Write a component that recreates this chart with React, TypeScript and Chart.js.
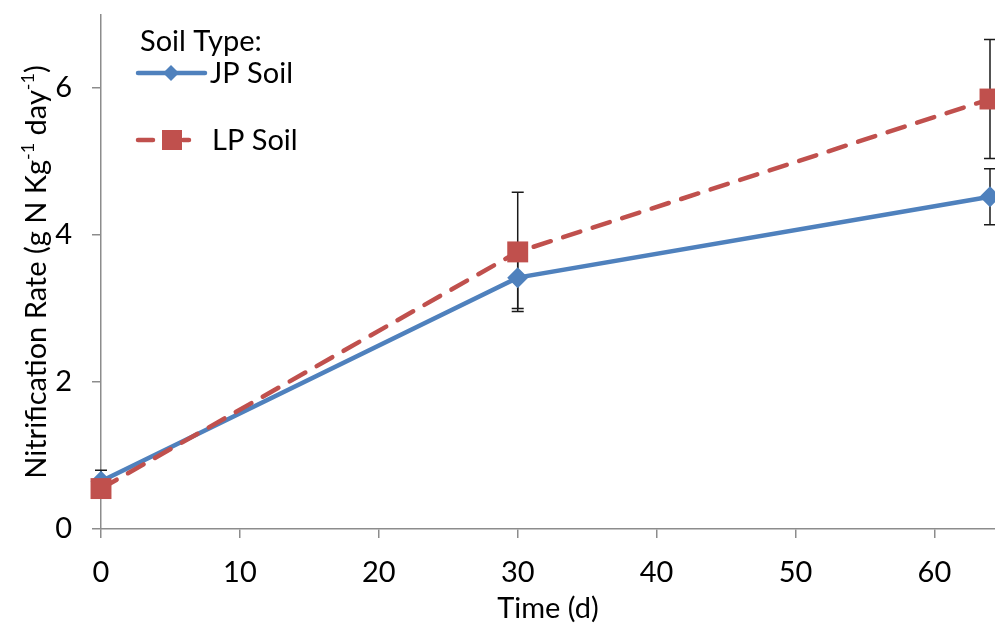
import React, { useEffect, useRef } from 'react';
import { Chart, registerables } from 'chart.js';

Chart.register(...registerables);

// ---- data ----
const times = [0, 30, 64];
const jpValues = [0.65, 3.42, 4.52];
const jpErrors = [0.15, 0.42, 0.38];
const lpValues = [0.55, 3.77, 5.85];
const lpErrors = [0.13, 0.81, 0.81];
const xTickValues = [0, 10, 20, 30, 40, 50, 60];
const yTickValues = [0, 2, 4, 6];
const seriesNames = ['JP Soil', 'LP Soil'];
const legendTitle = 'Soil Type:';
const xTitle = 'Time (d)';
const yTitleParts = [
  { t: 'Nitrification Rate (g N Kg', sup: false },
  { t: '-1', sup: true },
  { t: ' day', sup: false },
  { t: '-1', sup: true },
  { t: ')', sup: false },
];

const BLUE = '#4F81BD';
const RED = '#C0504D';
const FONT = 'Lato';
const AXIS_COLOR = '#8C8C8C';
const FS = 29;

const errorBarPlugin = {
  id: 'errorBars',
  beforeDatasetsDraw(chart: any) {
    const { ctx } = chart;
    const yS = chart.scales.y;
    chart.data.datasets.forEach((ds: any, i: number) => {
      const meta = chart.getDatasetMeta(i);
      const errs: number[] = ds.errors || [];
      meta.data.forEach((pt: any, j: number) => {
        const v = ds.data[j].y;
        const e = errs[j];
        if (e == null) return;
        const x = pt.x;
        const yTop = yS.getPixelForValue(v + e);
        const yBot = yS.getPixelForValue(v - e);
        ctx.save();
        ctx.strokeStyle = '#1a1a1a';
        ctx.lineWidth = 1.5;
        ctx.beginPath();
        ctx.moveTo(x, yTop);
        ctx.lineTo(x, yBot);
        ctx.moveTo(x - 6, yTop);
        ctx.lineTo(x + 6, yTop);
        ctx.moveTo(x - 6, yBot);
        ctx.lineTo(x + 6, yBot);
        ctx.stroke();
        ctx.restore();
      });
    });
  },
};

const decorPlugin = {
  id: 'decor',
  afterDraw(chart: any) {
    const { ctx } = chart;
    ctx.save();
    // y-axis title with superscripts
    const size = FS;
    const supSize = 18;
    const parts = yTitleParts.map((p) => {
      ctx.font = `${p.sup ? supSize : size}px ${FONT}`;
      return { ...p, w: ctx.measureText(p.t).width };
    });
    const total = parts.reduce((a, p) => a + p.w, 0);
    ctx.translate(36, 272);
    ctx.rotate(-Math.PI / 2);
    ctx.fillStyle = '#000';
    ctx.textBaseline = 'alphabetic';
    ctx.textAlign = 'left';
    let x = -total / 2;
    parts.forEach((p) => {
      ctx.font = `${p.sup ? supSize : size}px ${FONT}`;
      ctx.fillText(p.t, x, p.sup ? -2 : 10);
      x += p.w;
    });
    ctx.restore();

    // legend
    ctx.save();
    ctx.fillStyle = '#000';
    ctx.textBaseline = 'middle';
    ctx.textAlign = 'left';
    ctx.font = `${FS}px ${FONT}`;
    ctx.fillText(legendTitle, 140, 42);
    // JP
    ctx.strokeStyle = BLUE;
    ctx.lineWidth = 4.5;
    ctx.lineCap = 'round';
    ctx.beginPath();
    ctx.moveTo(138, 73);
    ctx.lineTo(205, 73);
    ctx.stroke();
    ctx.fillStyle = BLUE;
    ctx.beginPath();
    ctx.moveTo(171, 65);
    ctx.lineTo(179, 73);
    ctx.lineTo(171, 81);
    ctx.lineTo(163, 73);
    ctx.closePath();
    ctx.fill();
    ctx.fillStyle = '#000';
    ctx.fillText(seriesNames[0], 210, 74);
    // LP
    ctx.strokeStyle = RED;
    ctx.beginPath();
    ctx.moveTo(138, 140);
    ctx.lineTo(153, 140);
    ctx.moveTo(183, 140);
    ctx.lineTo(189, 140);
    ctx.stroke();
    ctx.fillStyle = RED;
    ctx.fillRect(162, 130, 20, 20);
    ctx.fillStyle = '#000';
    ctx.fillText(seriesNames[1], 212, 141);
    ctx.restore();
  },
};

const zeroPad = (s: any) => {
  s.paddingTop = 0;
  s.paddingBottom = 0;
  s.paddingLeft = 0;
  s.paddingRight = 0;
};

export default function App() {
  const ref = useRef<HTMLCanvasElement>(null);
  useEffect(() => {
    if (!ref.current) return;
    const chart = new Chart(ref.current, {
      type: 'line',
      data: {
        datasets: [
          {
            label: seriesNames[0],
            data: times.map((t, i) => ({ x: t, y: jpValues[i] })),
            errors: jpErrors,
            borderColor: BLUE,
            backgroundColor: BLUE,
            borderWidth: 4.5,
            pointStyle: 'rectRot',
            pointRadius: 10.5,
            pointBorderWidth: 0,
            pointBackgroundColor: BLUE,
            tension: 0,
            clip: false,
            order: 1,
          } as any,
          {
            label: seriesNames[1],
            data: times.map((t, i) => ({ x: t, y: lpValues[i] })),
            errors: lpErrors,
            borderColor: RED,
            backgroundColor: RED,
            borderWidth: 4.5,
            borderDash: [18, 13],
            borderCapStyle: 'round',
            pointStyle: 'rect',
            pointRadius: 14.8,
            pointBorderWidth: 0,
            pointBackgroundColor: RED,
            tension: 0,
            clip: false,
            order: 0,
          } as any,
        ],
      },
      options: {
        responsive: false,
        animation: false,
        devicePixelRatio: 1,
        layout: { autoPadding: false, padding: { left: 0, right: 0, top: 14.5, bottom: 0 } },
        plugins: {
          legend: { display: false },
          tooltip: { enabled: false },
        },
        scales: {
          x: {
            type: 'linear',
            min: 0,
            max: 64.36,
            afterBuildTicks: (s: any) => {
              s.ticks = xTickValues.map((v) => ({ value: v }));
            },
            afterFit: (s: any) => {
              s.height = 100;
              zeroPad(s);
            },
            grid: {
              drawOnChartArea: false,
              drawTicks: true,
              tickLength: 9,
              color: AXIS_COLOR,
              lineWidth: 1.5,
            },
            border: { color: AXIS_COLOR, width: 1.5 },
            ticks: {
              color: '#000',
              font: { family: FONT, size: FS },
              padding: 17,
              maxRotation: 0,
            },
            title: {
              display: true,
              text: xTitle,
              color: '#000',
              font: { family: FONT, size: FS },
              padding: { top: 0, bottom: 3 },
            },
          },
          y: {
            type: 'linear',
            min: 0,
            max: 7,
            afterBuildTicks: (s: any) => {
              s.ticks = yTickValues.map((v) => ({ value: v }));
            },
            afterFit: (s: any) => {
              s.width = 101;
              zeroPad(s);
            },
            grid: {
              drawOnChartArea: false,
              drawTicks: true,
              tickLength: 9,
              color: AXIS_COLOR,
              lineWidth: 1.5,
            },
            border: { color: AXIS_COLOR, width: 1.5 },
            ticks: {
              color: '#000',
              font: { family: FONT, size: FS },
              padding: 20,
            },
            title: { display: false },
          },
        },
      },
      plugins: [errorBarPlugin, decorPlugin],
    });
    return () => chart.destroy();
  }, []);
  return (
    <div style={{ position: 'absolute', left: 0, top: 0, width: 995, height: 629, overflow: 'hidden', background: '#fff' }}>
      <canvas ref={ref} width={995} height={629} style={{ display: 'block' }} />
    </div>
  );
}
